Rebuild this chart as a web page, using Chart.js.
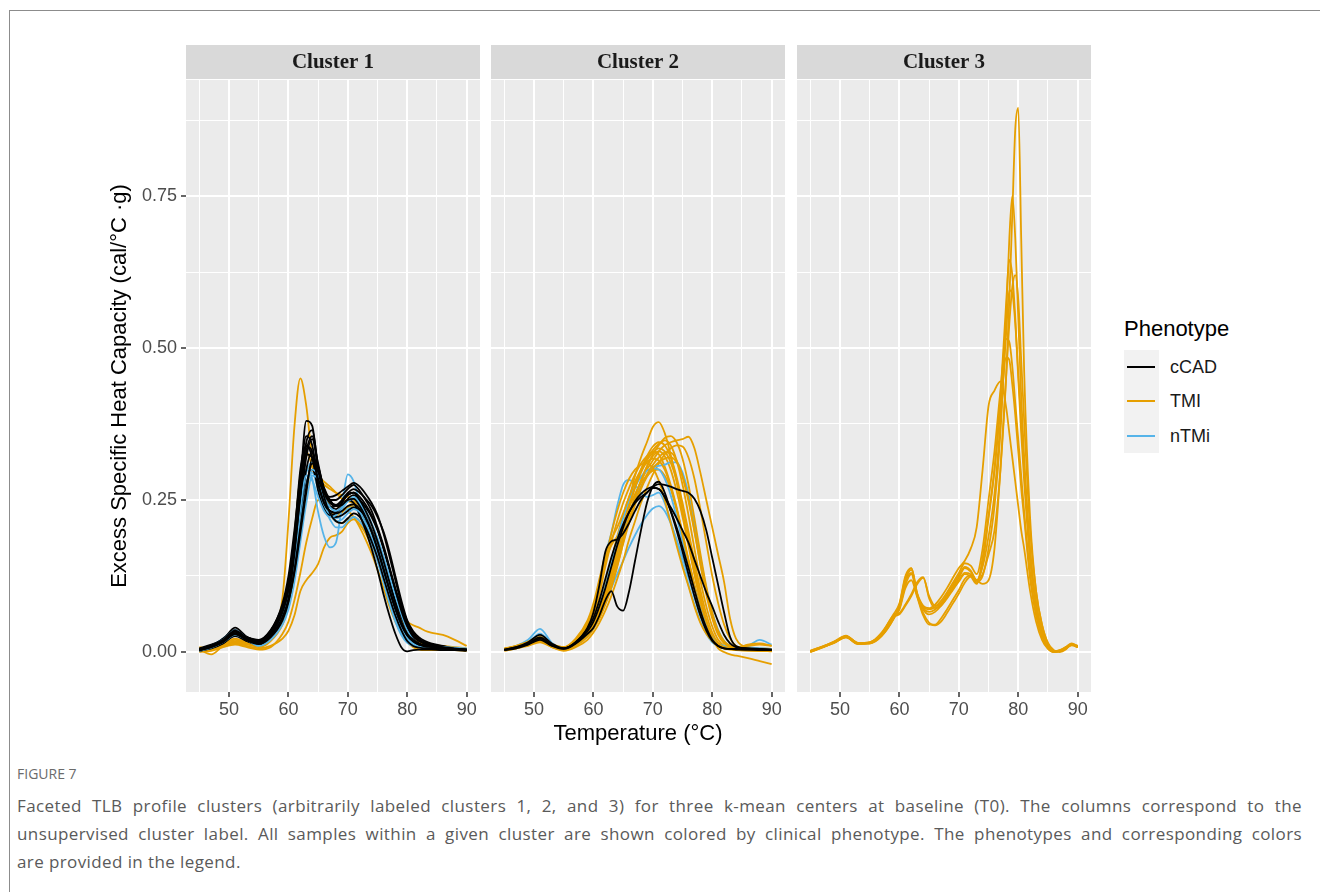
<!DOCTYPE html>
<html>
<head>
<meta charset="utf-8">
<title>TLB profile clusters</title>
<script src="https://cdn.jsdelivr.net/npm/chart.js@4.4.0/dist/chart.umd.min.js"></script>
<style>
  body { margin: 0; background: #fff; width: 1320px; height: 892px; position: relative; overflow: hidden; font-family: 'Liberation Sans', Arial, sans-serif; }
  .frame { position: absolute; left: 9px; top: 10px; width: 1400px; height: 1000px; border: 1px solid #8c8c8c; }
  canvas { position: absolute; }
  .lg-title { position: absolute; left: 1124px; top: 318px; font-size: 22px; line-height: 22px; color: #000; }
  .lg-keys { position: absolute; left: 1124px; top: 350px; width: 35px; height: 103px; background: #f2f2f2; }
  .lg-line { position: absolute; left: 1127px; width: 28px; height: 2px; }
  .lg-label { position: absolute; left: 1170px; font-size: 18px; line-height: 18px; color: #1a1a1a; }
  .figno { position: absolute; left: 17px; top: 764px; font-family: 'Open Sans', sans-serif; font-size: 14px; color: #6b6b6b; }
  .cap { position: absolute; left: 17px; top: 792px; width: 1285px; font-family: 'Open Sans', sans-serif; font-size: 17px; letter-spacing: 0.4px; line-height: 28px; color: #5a5a5a; }
  .jl { text-align: justify; text-align-last: justify; }
</style>
</head>
<body>
<div class="frame"></div>

<canvas id="panel1" width="386" height="710" style="left:100px;top:40px"></canvas>
<canvas id="panel2" width="305" height="710" style="left:486px;top:40px"></canvas>
<canvas id="panel3" width="305" height="710" style="left:792px;top:40px"></canvas>

<div class="lg-title">Phenotype</div>
<div class="lg-keys"></div>
<div class="lg-line" style="top:366px;background:#000000"></div>
<div class="lg-line" style="top:400px;background:#E69F00"></div>
<div class="lg-line" style="top:435px;background:#56B4E9"></div>
<div class="lg-label" style="top:358px">cCAD</div>
<div class="lg-label" style="top:392px">TMI</div>
<div class="lg-label" style="top:427px">nTMi</div>

<div class="figno">FIGURE 7</div>
<div class="cap">
  <div class="jl">Faceted TLB profile clusters (arbitrarily labeled clusters 1, 2, and 3) for three k-mean centers at baseline (T0). The columns correspond to the</div>
  <div class="jl">unsupervised cluster label. All samples within a given cluster are shown colored by clinical phenotype. The phenotypes and corresponding colors</div>
  <div>are provided in the legend.</div>
</div>

<script>
// temperature grids (deg C)
var temps = [45, 47, 49, 51, 53, 55, 57, 59,
  60, 61, 62, 63, 64, 65, 66, 67, 68, 69,
  70, 71, 72, 73, 74, 75, 76, 77, 78, 79,
  80, 81, 82, 83, 84,
  86, 88, 90];
var temps3 = [45, 47, 49, 51, 53, 55, 57, 59,
  60, 61, 62, 63, 64, 65, 66, 67, 68, 69,
  70, 71, 72, 73, 74, 75, 76, 77,
  78, 78.5, 79, 79.5, 80, 80.5, 81,
  82, 83, 84, 85, 86, 87, 88, 89, 90];

var clusterNames = ['Cluster 1', 'Cluster 2', 'Cluster 3'];
var phenotypes = ['cCAD', 'TMI', 'nTMi'];
var xTicks = [45, 50, 55, 60, 65, 70, 75, 80, 85, 90];
var yTicks = [0, 0.125, 0.25, 0.375, 0.5, 0.625, 0.75, 0.875];

// Cluster 1
var c1cCAD = [
  [0.004, 0.010, 0.022, 0.036, 0.022, 0.016, 0.030, 0.070, 0.110, 0.180, 0.280, 0.380, 0.372, 0.300, 0.255, 0.240, 0.235, 0.245, 0.260, 0.262, 0.245, 0.225, 0.200, 0.170, 0.135, 0.100, 0.070, 0.045, 0.028, 0.018, 0.012, 0.008, 0.006, 0.004, 0.004, 0.003],
  [0.002, 0.008, 0.018, 0.032, 0.024, 0.020, 0.036, 0.075, 0.105, 0.160, 0.240, 0.320, 0.350, 0.310, 0.265, 0.250, 0.250, 0.258, 0.268, 0.275, 0.265, 0.250, 0.232, 0.205, 0.175, 0.140, 0.105, 0.075, 0.045, 0.030, 0.020, 0.014, 0.010, 0.006, 0.005, 0.004],
  [0.006, 0.012, 0.020, 0.030, 0.018, 0.012, 0.028, 0.065, 0.100, 0.190, 0.300, 0.340, 0.320, 0.265, 0.235, 0.225, 0.228, 0.240, 0.250, 0.245, 0.225, 0.200, 0.170, 0.135, 0.095, 0.060, 0.030, 0.008, 0.001, 0.003, 0.004, 0.004, 0.004, 0.003, 0.003, 0.002],
  [0.003, 0.007, 0.015, 0.026, 0.018, 0.015, 0.030, 0.060, 0.090, 0.150, 0.230, 0.300, 0.330, 0.290, 0.250, 0.230, 0.222, 0.225, 0.232, 0.238, 0.232, 0.218, 0.200, 0.175, 0.145, 0.115, 0.085, 0.058, 0.036, 0.022, 0.014, 0.010, 0.008, 0.006, 0.005, 0.004],
  [0.004, 0.009, 0.020, 0.040, 0.025, 0.018, 0.034, 0.080, 0.125, 0.200, 0.290, 0.355, 0.340, 0.280, 0.245, 0.232, 0.230, 0.238, 0.252, 0.258, 0.250, 0.238, 0.222, 0.200, 0.170, 0.135, 0.098, 0.066, 0.040, 0.026, 0.018, 0.014, 0.012, 0.008, 0.006, 0.004],
  [0.002, 0.006, 0.014, 0.028, 0.020, 0.018, 0.032, 0.062, 0.092, 0.140, 0.210, 0.275, 0.300, 0.275, 0.248, 0.238, 0.240, 0.250, 0.262, 0.268, 0.262, 0.252, 0.240, 0.222, 0.198, 0.165, 0.125, 0.085, 0.052, 0.034, 0.024, 0.018, 0.014, 0.010, 0.006, 0.005],
  [0.005, 0.011, 0.020, 0.034, 0.021, 0.014, 0.026, 0.058, 0.088, 0.160, 0.260, 0.330, 0.355, 0.300, 0.255, 0.228, 0.215, 0.212, 0.220, 0.228, 0.222, 0.205, 0.182, 0.155, 0.122, 0.090, 0.060, 0.036, 0.018, 0.010, 0.007, 0.006, 0.006, 0.005, 0.004, 0.003],
  [0.003, 0.008, 0.017, 0.030, 0.019, 0.013, 0.024, 0.052, 0.082, 0.135, 0.205, 0.270, 0.310, 0.300, 0.270, 0.250, 0.240, 0.242, 0.250, 0.252, 0.240, 0.222, 0.198, 0.168, 0.135, 0.102, 0.072, 0.046, 0.028, 0.018, 0.012, 0.010, 0.009, 0.006, 0.005, 0.004],
  [0.004, 0.010, 0.019, 0.033, 0.023, 0.017, 0.032, 0.070, 0.112, 0.175, 0.265, 0.345, 0.365, 0.305, 0.262, 0.245, 0.240, 0.248, 0.258, 0.262, 0.250, 0.232, 0.210, 0.182, 0.150, 0.115, 0.080, 0.050, 0.030, 0.020, 0.014, 0.011, 0.010, 0.007, 0.005, 0.004],
  [0.003, 0.009, 0.019, 0.035, 0.024, 0.019, 0.035, 0.074, 0.115, 0.185, 0.270, 0.325, 0.320, 0.285, 0.262, 0.255, 0.258, 0.265, 0.272, 0.278, 0.272, 0.260, 0.245, 0.225, 0.195, 0.158, 0.118, 0.080, 0.050, 0.032, 0.022, 0.016, 0.012, 0.008, 0.006, 0.004],
  [0.004, 0.009, 0.018, 0.031, 0.020, 0.015, 0.029, 0.066, 0.102, 0.168, 0.255, 0.338, 0.330, 0.278, 0.245, 0.232, 0.228, 0.232, 0.240, 0.243, 0.235, 0.220, 0.198, 0.170, 0.138, 0.104, 0.072, 0.046, 0.027, 0.017, 0.012, 0.009, 0.008, 0.006, 0.005, 0.004],
  [0.003, 0.008, 0.016, 0.029, 0.021, 0.016, 0.028, 0.056, 0.084, 0.130, 0.195, 0.262, 0.318, 0.305, 0.268, 0.248, 0.242, 0.248, 0.258, 0.262, 0.255, 0.242, 0.225, 0.202, 0.172, 0.138, 0.102, 0.068, 0.042, 0.026, 0.018, 0.013, 0.010, 0.007, 0.005, 0.004]
];
var c1TMI = [
  [0.004, -0.004, 0.010, 0.016, 0.012, 0.010, 0.025, 0.090, 0.215, 0.370, 0.450, 0.405, 0.320, 0.285, 0.275, 0.268, 0.262, 0.258, 0.255, 0.250, 0.232, 0.210, 0.185, 0.155, 0.120, 0.088, 0.058, 0.035, 0.020, 0.012, 0.008, 0.006, 0.005, 0.004, 0.003, 0.003],
  [0.002, 0.004, 0.010, 0.014, 0.010, 0.006, 0.010, 0.022, 0.035, 0.060, 0.100, 0.118, 0.130, 0.145, 0.172, 0.188, 0.192, 0.198, 0.212, 0.218, 0.210, 0.195, 0.175, 0.150, 0.120, 0.090, 0.062, 0.040, 0.026, 0.020, 0.016, 0.014, 0.012, 0.010, 0.008, 0.006],
  [0.006, 0.008, 0.014, 0.020, 0.014, 0.008, 0.018, 0.045, 0.075, 0.125, 0.200, 0.265, 0.300, 0.275, 0.245, 0.230, 0.225, 0.230, 0.238, 0.240, 0.228, 0.210, 0.188, 0.160, 0.132, 0.105, 0.080, 0.062, 0.050, 0.044, 0.040, 0.035, 0.032, 0.028, 0.020, 0.010],
  [0.000, 0.002, 0.008, 0.012, 0.008, 0.004, 0.008, 0.030, 0.050, 0.085, 0.130, 0.180, 0.220, 0.250, 0.240, 0.225, 0.215, 0.212, 0.218, 0.222, 0.215, 0.200, 0.180, 0.155, 0.125, 0.095, 0.068, 0.045, 0.030, 0.020, 0.014, 0.011, 0.009, 0.006, 0.004, 0.003],
  [0.008, 0.006, 0.012, 0.018, 0.014, 0.012, 0.028, 0.070, 0.110, 0.190, 0.290, 0.330, 0.305, 0.270, 0.250, 0.245, 0.240, 0.238, 0.232, 0.222, 0.205, 0.185, 0.162, 0.135, 0.105, 0.075, 0.050, 0.030, 0.016, 0.008, 0.004, 0.003, 0.003, 0.003, 0.003, 0.002],
  [0.003, 0.007, 0.015, 0.022, 0.016, 0.012, 0.026, 0.062, 0.098, 0.160, 0.245, 0.300, 0.305, 0.290, 0.280, 0.272, 0.262, 0.252, 0.248, 0.245, 0.235, 0.220, 0.200, 0.175, 0.145, 0.112, 0.080, 0.052, 0.032, 0.020, 0.014, 0.010, 0.008, 0.006, 0.005, 0.004]
];
var c1nTMi = [
  [0.004, 0.010, 0.022, 0.036, 0.022, 0.012, 0.024, 0.052, 0.080, 0.140, 0.230, 0.300, 0.285, 0.230, 0.190, 0.172, 0.180, 0.240, 0.292, 0.280, 0.245, 0.215, 0.185, 0.150, 0.115, 0.080, 0.050, 0.028, 0.015, 0.010, 0.008, 0.007, 0.006, 0.005, 0.004, 0.003],
  [0.003, 0.009, 0.020, 0.034, 0.024, 0.016, 0.030, 0.064, 0.098, 0.160, 0.240, 0.295, 0.312, 0.275, 0.240, 0.225, 0.220, 0.225, 0.235, 0.238, 0.228, 0.210, 0.188, 0.160, 0.128, 0.095, 0.065, 0.040, 0.024, 0.015, 0.011, 0.009, 0.008, 0.006, 0.005, 0.004],
  [0.005, 0.011, 0.021, 0.030, 0.020, 0.014, 0.028, 0.060, 0.092, 0.150, 0.225, 0.280, 0.295, 0.268, 0.238, 0.218, 0.205, 0.205, 0.215, 0.222, 0.215, 0.200, 0.178, 0.150, 0.118, 0.086, 0.056, 0.032, 0.018, 0.012, 0.009, 0.008, 0.007, 0.006, 0.005, 0.004],
  [0.002, 0.007, 0.016, 0.028, 0.020, 0.010, 0.020, 0.045, 0.070, 0.115, 0.180, 0.245, 0.290, 0.285, 0.255, 0.238, 0.232, 0.238, 0.248, 0.252, 0.245, 0.232, 0.212, 0.188, 0.158, 0.125, 0.092, 0.062, 0.036, 0.020, 0.012, 0.009, 0.008, 0.007, 0.006, 0.005],
  [0.003, 0.008, 0.018, 0.032, 0.022, 0.015, 0.028, 0.058, 0.088, 0.145, 0.215, 0.270, 0.300, 0.290, 0.255, 0.228, 0.215, 0.218, 0.228, 0.235, 0.230, 0.218, 0.198, 0.172, 0.142, 0.108, 0.074, 0.046, 0.026, 0.016, 0.011, 0.010, 0.009, 0.008, 0.007, 0.006],
  [0.004, 0.010, 0.020, 0.035, 0.023, 0.014, 0.026, 0.056, 0.086, 0.150, 0.235, 0.290, 0.282, 0.255, 0.232, 0.222, 0.225, 0.235, 0.248, 0.255, 0.245, 0.225, 0.198, 0.165, 0.128, 0.092, 0.060, 0.035, 0.020, 0.012, 0.009, 0.008, 0.007, 0.006, 0.005, 0.004]
];

// Cluster 2
var c2cCAD = [
  [0.003, 0.006, 0.012, 0.020, 0.010, 0.006, 0.014, 0.030, 0.040, 0.060, 0.085, 0.100, 0.075, 0.068, 0.100, 0.150, 0.200, 0.245, 0.272, 0.280, 0.262, 0.232, 0.200, 0.165, 0.128, 0.092, 0.060, 0.035, 0.018, 0.010, 0.006, 0.005, 0.004, 0.004, 0.003, 0.003],
  [0.004, 0.008, 0.016, 0.028, 0.014, 0.006, 0.016, 0.040, 0.065, 0.110, 0.165, 0.182, 0.185, 0.195, 0.212, 0.232, 0.250, 0.262, 0.270, 0.268, 0.255, 0.232, 0.205, 0.172, 0.138, 0.102, 0.068, 0.040, 0.020, 0.010, 0.006, 0.005, 0.005, 0.004, 0.004, 0.003],
  [0.003, 0.007, 0.013, 0.022, 0.011, 0.005, 0.014, 0.034, 0.050, 0.075, 0.105, 0.140, 0.175, 0.205, 0.230, 0.248, 0.260, 0.268, 0.272, 0.276, 0.275, 0.272, 0.268, 0.265, 0.262, 0.252, 0.232, 0.200, 0.155, 0.110, 0.065, 0.025, 0.010, 0.006, 0.005, 0.004],
  [0.004, 0.008, 0.014, 0.024, 0.012, 0.006, 0.016, 0.038, 0.056, 0.085, 0.120, 0.155, 0.185, 0.210, 0.230, 0.245, 0.255, 0.262, 0.270, 0.268, 0.255, 0.238, 0.220, 0.200, 0.180, 0.152, 0.125, 0.098, 0.075, 0.050, 0.028, 0.014, 0.008, 0.006, 0.005, 0.004]
];
var c2TMI = [
  [0.004, 0.008, 0.014, 0.020, 0.010, 0.004, 0.012, 0.030, 0.045, 0.065, 0.090, 0.120, 0.160, 0.205, 0.250, 0.290, 0.320, 0.345, 0.370, 0.378, 0.360, 0.325, 0.280, 0.230, 0.180, 0.130, 0.085, 0.050, 0.025, 0.012, 0.006, 0.004, 0.003, 0.002, 0.002, 0.001],
  [0.003, 0.006, 0.012, 0.018, 0.008, 0.003, 0.010, 0.025, 0.038, 0.055, 0.078, 0.105, 0.140, 0.180, 0.220, 0.255, 0.280, 0.300, 0.315, 0.330, 0.340, 0.345, 0.348, 0.350, 0.354, 0.335, 0.295, 0.250, 0.205, 0.160, 0.115, 0.055, 0.022, 0.008, 0.006, 0.005],
  [0.005, 0.009, 0.015, 0.022, 0.012, 0.006, 0.016, 0.035, 0.052, 0.078, 0.110, 0.150, 0.190, 0.225, 0.255, 0.280, 0.300, 0.318, 0.332, 0.342, 0.348, 0.340, 0.315, 0.275, 0.225, 0.170, 0.118, 0.075, 0.042, 0.020, 0.010, 0.006, 0.004, 0.003, 0.003, 0.002],
  [0.004, 0.008, 0.016, 0.024, 0.012, 0.006, 0.018, 0.042, 0.062, 0.095, 0.140, 0.180, 0.215, 0.245, 0.270, 0.292, 0.310, 0.322, 0.330, 0.325, 0.305, 0.275, 0.238, 0.195, 0.150, 0.108, 0.070, 0.040, 0.020, 0.010, 0.006, 0.005, 0.004, 0.003, 0.002, 0.002],
  [0.003, 0.006, 0.010, 0.016, 0.008, 0.002, 0.008, 0.020, 0.032, 0.048, 0.068, 0.092, 0.120, 0.150, 0.185, 0.215, 0.245, 0.270, 0.292, 0.310, 0.325, 0.335, 0.340, 0.338, 0.320, 0.285, 0.235, 0.180, 0.125, 0.080, 0.045, 0.022, 0.010, 0.004, 0.003, 0.002],
  [0.006, 0.010, 0.016, 0.021, 0.012, 0.008, 0.016, 0.032, 0.048, 0.072, 0.105, 0.140, 0.175, 0.210, 0.238, 0.260, 0.278, 0.290, 0.298, 0.300, 0.290, 0.268, 0.235, 0.195, 0.152, 0.112, 0.075, 0.045, 0.024, 0.012, 0.008, 0.006, 0.005, 0.004, 0.004, 0.003],
  [0.004, 0.008, 0.014, 0.022, 0.011, 0.006, 0.018, 0.045, 0.070, 0.110, 0.150, 0.175, 0.190, 0.200, 0.225, 0.255, 0.282, 0.305, 0.322, 0.330, 0.322, 0.300, 0.265, 0.222, 0.175, 0.128, 0.085, 0.050, 0.026, 0.014, 0.009, 0.007, 0.006, 0.004, 0.003, 0.002],
  [0.002, 0.006, 0.012, 0.018, 0.010, 0.004, 0.012, 0.030, 0.045, 0.068, 0.098, 0.132, 0.168, 0.205, 0.240, 0.270, 0.295, 0.315, 0.328, 0.335, 0.330, 0.312, 0.282, 0.240, 0.192, 0.140, 0.092, 0.052, 0.022, 0.006, 0.000, -0.004, -0.006, -0.010, -0.015, -0.020],
  [0.005, 0.009, 0.013, 0.019, 0.009, 0.005, 0.014, 0.028, 0.040, 0.058, 0.082, 0.110, 0.142, 0.178, 0.212, 0.242, 0.268, 0.288, 0.302, 0.312, 0.318, 0.320, 0.312, 0.290, 0.252, 0.200, 0.145, 0.095, 0.055, 0.028, 0.014, 0.008, 0.006, 0.012, 0.014, 0.010],
  [0.004, 0.008, 0.015, 0.023, 0.012, 0.007, 0.020, 0.048, 0.070, 0.105, 0.150, 0.195, 0.232, 0.262, 0.285, 0.300, 0.308, 0.310, 0.302, 0.282, 0.250, 0.212, 0.175, 0.140, 0.108, 0.075, 0.048, 0.030, 0.018, 0.010, 0.006, 0.005, 0.004, 0.004, 0.003, 0.003],
  [0.003, 0.007, 0.012, 0.017, 0.009, 0.004, 0.012, 0.030, 0.044, 0.065, 0.092, 0.125, 0.162, 0.200, 0.238, 0.272, 0.300, 0.322, 0.338, 0.345, 0.340, 0.320, 0.288, 0.245, 0.198, 0.150, 0.102, 0.062, 0.032, 0.015, 0.008, 0.005, 0.004, 0.003, 0.002, 0.002],
  [0.004, 0.007, 0.013, 0.019, 0.010, 0.005, 0.013, 0.030, 0.044, 0.064, 0.090, 0.120, 0.152, 0.188, 0.222, 0.255, 0.282, 0.305, 0.325, 0.340, 0.352, 0.355, 0.345, 0.318, 0.275, 0.220, 0.162, 0.108, 0.065, 0.035, 0.018, 0.010, 0.008, 0.010, 0.012, 0.010],
  [0.005, 0.010, 0.017, 0.025, 0.013, 0.008, 0.022, 0.052, 0.080, 0.120, 0.160, 0.185, 0.205, 0.228, 0.255, 0.280, 0.298, 0.312, 0.318, 0.315, 0.300, 0.272, 0.235, 0.192, 0.148, 0.105, 0.068, 0.040, 0.022, 0.012, 0.008, 0.006, 0.005, 0.004, 0.003, 0.003],
  [0.004, 0.007, 0.012, 0.018, 0.009, 0.005, 0.012, 0.028, 0.042, 0.062, 0.088, 0.118, 0.150, 0.185, 0.218, 0.248, 0.272, 0.292, 0.308, 0.320, 0.328, 0.328, 0.315, 0.288, 0.248, 0.198, 0.145, 0.098, 0.060, 0.032, 0.016, 0.010, 0.008, 0.006, 0.005, 0.004]
];
var c2nTMi = [
  [0.005, 0.010, 0.020, 0.038, 0.015, 0.006, 0.018, 0.045, 0.070, 0.115, 0.160, 0.195, 0.240, 0.275, 0.283, 0.275, 0.262, 0.255, 0.258, 0.262, 0.245, 0.215, 0.180, 0.145, 0.110, 0.078, 0.050, 0.030, 0.016, 0.010, 0.008, 0.008, 0.008, 0.010, 0.020, 0.012],
  [0.004, 0.008, 0.014, 0.024, 0.012, 0.006, 0.014, 0.030, 0.042, 0.060, 0.082, 0.105, 0.128, 0.150, 0.172, 0.192, 0.210, 0.225, 0.236, 0.240, 0.232, 0.212, 0.185, 0.155, 0.122, 0.090, 0.060, 0.036, 0.020, 0.012, 0.008, 0.006, 0.006, 0.005, 0.004, 0.004],
  [0.003, 0.007, 0.013, 0.022, 0.011, 0.005, 0.012, 0.028, 0.040, 0.060, 0.088, 0.120, 0.155, 0.190, 0.222, 0.250, 0.272, 0.290, 0.305, 0.306, 0.308, 0.312, 0.312, 0.295, 0.260, 0.210, 0.155, 0.105, 0.065, 0.036, 0.018, 0.010, 0.008, 0.008, 0.006, 0.005],
  [0.004, 0.009, 0.016, 0.030, 0.013, 0.006, 0.015, 0.034, 0.050, 0.075, 0.108, 0.145, 0.185, 0.220, 0.250, 0.272, 0.288, 0.298, 0.302, 0.300, 0.285, 0.258, 0.222, 0.182, 0.142, 0.105, 0.070, 0.042, 0.024, 0.014, 0.010, 0.008, 0.007, 0.006, 0.006, 0.005]
];

// Cluster 3 (TMI only), on the finer temps3 grid
var c3TMI = [
  [0.000, 0.008, 0.016, 0.026, 0.014, 0.014, 0.026, 0.054, 0.075, 0.118, 0.135, 0.092, 0.072, 0.066, 0.070, 0.080, 0.094, 0.110, 0.126, 0.140, 0.134, 0.118, 0.128, 0.160, 0.200, 0.300, 0.460, 0.580, 0.720, 0.860, 0.895, 0.680, 0.460, 0.220, 0.100, 0.045, 0.015, 0.003, 0.000, 0.004, 0.013, 0.008],
  [0.002, 0.009, 0.017, 0.025, 0.015, 0.016, 0.030, 0.058, 0.062, 0.076, 0.092, 0.112, 0.122, 0.092, 0.076, 0.080, 0.090, 0.104, 0.118, 0.130, 0.128, 0.115, 0.125, 0.170, 0.240, 0.360, 0.560, 0.680, 0.750, 0.680, 0.550, 0.420, 0.320, 0.170, 0.080, 0.035, 0.010, 0.000, 0.002, 0.006, 0.012, 0.009],
  [0.001, 0.008, 0.015, 0.024, 0.013, 0.014, 0.027, 0.055, 0.078, 0.122, 0.138, 0.095, 0.070, 0.062, 0.066, 0.076, 0.090, 0.106, 0.122, 0.138, 0.132, 0.118, 0.145, 0.220, 0.300, 0.420, 0.580, 0.645, 0.620, 0.550, 0.450, 0.360, 0.280, 0.150, 0.075, 0.030, 0.008, 0.001, 0.003, 0.008, 0.014, 0.010],
  [0.000, 0.007, 0.016, 0.025, 0.014, 0.015, 0.028, 0.056, 0.070, 0.105, 0.118, 0.090, 0.060, 0.045, 0.045, 0.055, 0.070, 0.086, 0.102, 0.120, 0.126, 0.118, 0.140, 0.190, 0.260, 0.380, 0.530, 0.595, 0.590, 0.540, 0.460, 0.380, 0.300, 0.160, 0.080, 0.034, 0.010, 0.002, 0.002, 0.007, 0.012, 0.009],
  [0.001, 0.008, 0.017, 0.027, 0.015, 0.015, 0.029, 0.057, 0.074, 0.115, 0.130, 0.094, 0.074, 0.070, 0.074, 0.084, 0.098, 0.114, 0.130, 0.146, 0.142, 0.128, 0.170, 0.250, 0.330, 0.430, 0.515, 0.510, 0.470, 0.410, 0.350, 0.290, 0.230, 0.130, 0.065, 0.028, 0.008, 0.001, 0.002, 0.006, 0.011, 0.008],
  [0.002, 0.009, 0.016, 0.024, 0.014, 0.016, 0.030, 0.060, 0.064, 0.078, 0.095, 0.115, 0.123, 0.088, 0.072, 0.076, 0.088, 0.102, 0.116, 0.128, 0.124, 0.112, 0.155, 0.225, 0.300, 0.400, 0.485, 0.480, 0.440, 0.390, 0.330, 0.270, 0.220, 0.120, 0.060, 0.025, 0.006, 0.000, 0.003, 0.008, 0.013, 0.010],
  [0.000, 0.008, 0.016, 0.026, 0.015, 0.016, 0.032, 0.062, 0.080, 0.125, 0.138, 0.096, 0.076, 0.072, 0.078, 0.090, 0.105, 0.122, 0.138, 0.150, 0.170, 0.205, 0.300, 0.405, 0.430, 0.445, 0.400, 0.360, 0.320, 0.280, 0.240, 0.200, 0.170, 0.100, 0.050, 0.020, 0.005, 0.000, 0.002, 0.007, 0.012, 0.008],
  [0.001, 0.008, 0.015, 0.025, 0.014, 0.015, 0.028, 0.056, 0.072, 0.110, 0.128, 0.092, 0.064, 0.048, 0.044, 0.050, 0.064, 0.080, 0.096, 0.114, 0.124, 0.118, 0.112, 0.118, 0.170, 0.300, 0.460, 0.540, 0.600, 0.620, 0.580, 0.480, 0.380, 0.200, 0.100, 0.045, 0.014, 0.002, 0.001, 0.006, 0.012, 0.009]
];

var phenoColors = { cCAD: '#000000', TMI: '#E69F00', nTMi: '#56B4E9' };
var fontFamily = "'Liberation Sans', Arial, sans-serif";

function isMajorX(v) { return v % 10 === 0; }
function isMajorY(v) { return Math.abs(v * 4 - Math.round(v * 4)) < 1e-9; }

// groups are listed bottom layer first
function buildDatasets(grid, groups) {
  var sets = [];
  groups.forEach(function(g) {
    g[1].forEach(function(curve) {
      sets.push({
        label: g[0],
        data: curve.map(function(v, i) { return { x: grid[i], y: v }; }),
        borderColor: phenoColors[g[0]],
        backgroundColor: phenoColors[g[0]],
        borderWidth: 1.8,
        pointRadius: 0,
        fill: false,
        cubicInterpolationMode: 'monotone'
      });
    });
  });
  sets.forEach(function(s, i) { s.order = sets.length - i; });
  return sets;
}

// grey panel background + facet strip
var facetPlugin = {
  id: 'facet',
  beforeDraw: function(chart, args, opts) {
    var ctx = chart.ctx, a = chart.chartArea;
    ctx.save();
    ctx.fillStyle = '#ebebeb';
    ctx.fillRect(a.left, a.top, a.right - a.left, a.bottom - a.top);
    ctx.fillStyle = '#d9d9d9';
    ctx.fillRect(a.left, a.top - 35, a.right - a.left, 34);
    ctx.fillStyle = '#1a1a1a';
    ctx.font = "bold 21px 'Liberation Serif', 'Times New Roman', serif";
    ctx.textAlign = 'center';
    ctx.textBaseline = 'middle';
    ctx.fillText(opts.title, (a.left + a.right) / 2, a.top - 17);
    ctx.restore();
  }
};

function makePanel(id, idx, datasets) {
  var first = idx === 0;
  var middle = idx === 1;
  var config = {
    type: 'line',
    data: { datasets: datasets },
    options: {
      responsive: false,
      animation: false,
      devicePixelRatio: 1,
      layout: { padding: { top: 40, right: 6, bottom: 0, left: first ? 0 : 5 } },
      plugins: {
        legend: { display: false },
        tooltip: { enabled: false },
        facet: { title: clusterNames[idx] }
      },
      scales: {
        x: {
          type: 'linear',
          min: 42.75,
          max: 92.25,
          afterBuildTicks: function(s) { s.ticks = xTicks.map(function(v) { return { value: v }; }); },
          afterFit: function(s) { s.height = 58; },
          border: { display: false },
          grid: {
            color: '#ffffff',
            lineWidth: function(c) { return c.tick && isMajorX(c.tick.value) ? 2 : 1; },
            tickColor: function(c) { return c.tick && isMajorX(c.tick.value) ? '#333333' : 'rgba(0,0,0,0)'; },
            tickLength: 5,
            tickWidth: 1.5
          },
          ticks: {
            color: '#4d4d4d',
            font: { size: 18, family: fontFamily },
            padding: 2,
            autoSkip: false,
            maxRotation: 0,
            callback: function(v) { return isMajorX(v) ? String(v) : ''; }
          },
          title: {
            display: middle,
            text: 'Temperature (°C)',
            color: '#000',
            font: { size: 22, family: fontFamily },
            padding: { top: 0, bottom: 3 }
          }
        },
        y: {
          min: -0.0658,
          max: 0.9408,
          afterBuildTicks: function(s) { s.ticks = yTicks.map(function(v) { return { value: v }; }); },
          afterFit: function(s) { s.width = first ? 86 : 0; },
          border: { display: false },
          grid: {
            color: '#ffffff',
            lineWidth: function(c) { return c.tick && isMajorY(c.tick.value) ? 2 : 1; },
            tickColor: function(c) { return c.tick && isMajorY(c.tick.value) ? '#333333' : 'rgba(0,0,0,0)'; },
            drawTicks: first,
            tickLength: 5,
            tickWidth: 1.5
          },
          ticks: {
            display: first,
            color: '#4d4d4d',
            font: { size: 18, family: fontFamily },
            padding: 4,
            autoSkip: false,
            callback: function(v) { return isMajorY(v) ? v.toFixed(2) : ''; }
          },
          title: {
            display: first,
            text: 'Excess Specific Heat Capacity (cal/°C ·g)',
            color: '#000',
            font: { size: 22, family: fontFamily },
            padding: { top: 7, bottom: 0 }
          }
        }
      }
    },
    plugins: [facetPlugin]
  };
  return new Chart(document.getElementById(id).getContext('2d'), config);
}

window.onload = function() {
  makePanel('panel1', 0, buildDatasets(temps, [
    ['TMI', c1TMI],
    ['nTMi', c1nTMi.slice(0, 3)],
    ['cCAD', c1cCAD.slice(0, 6)],
    ['nTMi', c1nTMi.slice(3)],
    ['cCAD', c1cCAD.slice(6)]
  ]));
  makePanel('panel2', 1, buildDatasets(temps, [
    ['nTMi', c2nTMi.slice(0, 2)],
    ['TMI', c2TMI.slice(0, 7)],
    ['nTMi', c2nTMi.slice(2)],
    ['TMI', c2TMI.slice(7)],
    ['cCAD', c2cCAD]
  ]));
  makePanel('panel3', 2, buildDatasets(temps3, [
    ['TMI', c3TMI]
  ]));
};
</script>
</body>
</html>
